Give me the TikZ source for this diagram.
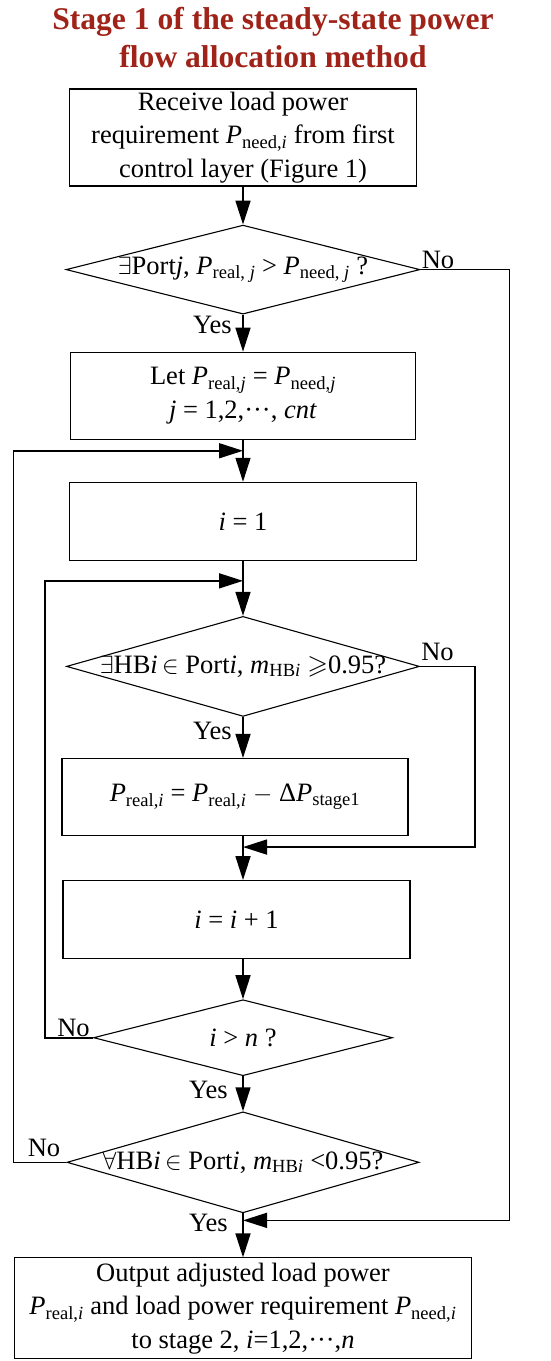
\documentclass[tikz,border=0pt]{standalone}
\usepackage{amsmath,amssymb}
\usepackage{fontspec}
\setmainfont{Liberation Serif}
\usepackage{xcolor}
\usetikzlibrary{positioning,shapes.geometric,arrows.meta}

\definecolor{titlered}{RGB}{160,35,25}
\newcommand{\pvar}[2]{\textit{#1}\textsubscript{#2}}

\begin{document}
\begin{tikzpicture}[
    x=1pt, y=1pt,
    font=\fontsize{26.5}{33.5}\selectfont,
    box/.style={rectangle, draw, line width=1.1pt, minimum width=347pt, align=center, inner sep=0pt},
    decision/.style={diamond, draw, line width=1.1pt, inner sep=0pt},
    line/.style={draw, line width=1.6pt, -{Triangle[length=24pt,width=15pt]}},
    lbl/.style={inner sep=1pt}
]
\useasboundingbox (0,0) rectangle (550,-1361);

% Title
\node[font=\fontsize{31.6}{38}\selectfont\bfseries, text=titlered, align=center] (title) at (273,-38)
    {Stage 1 of the steady-state power\\flow allocation method};

% Nodes
\node[box, minimum height=97pt] (recv) at (243,-137.5)
    {Receive load power\\requirement \pvar{P}{need,\textit{i}} from first\\control layer (Figure 1)};
\node[decision, minimum width=354pt, minimum height=89pt, below=38pt of recv] (chk1)
    {\makebox[0pt]{$\exists$Port\textit{j}, \pvar{P}{real, \textit{j}} > \pvar{P}{need, \textit{j}} ?}};
\node[box, minimum width=345pt, minimum height=87pt, below=37pt of chk1] (let)
    {Let \pvar{P}{real,\textit{j}} = \pvar{P}{need,\textit{j}}\\\textit{j} = 1,2,···, \textit{cnt}};
\node[box, minimum height=78pt, below=42pt of let] (init) {\textit{i} = 1};
\node[decision, minimum width=353pt, minimum height=100pt, below=55pt of init] (chk2)
    {\makebox[0pt]{$\exists$HB\textit{i}\,$\in$ Port\textit{i}, \pvar{m}{HB\textit{i}} $\geqslant$0.95?}};
\node[box, minimum width=346pt, minimum height=77pt, below=41pt of chk2, xshift=-8pt] (sub)
    {\pvar{P}{real,\textit{i}} = \pvar{P}{real,\textit{i}} $-$ Δ\pvar{P}{stage1}};
\node[box, minimum height=78pt, below=44pt of sub, xshift=1.5pt] (incr) {\textit{i} = \textit{i} + 1};
\node[decision, minimum width=299pt, minimum height=76pt, below=40pt of incr, xshift=6.5pt] (chk3)
    {\makebox[0pt]{\textit{i} > \textit{n} ?}};
\node[decision, minimum width=352pt, minimum height=101pt, below=35pt of chk3] (chk4)
    {\makebox[0pt]{$\forall$HB\textit{i}\,$\in$ Port\textit{i}, \pvar{m}{HB\textit{i}} <0.95?}};
\node[box, minimum width=457pt, minimum height=101pt, below=44pt of chk4] (out)
    {Output adjusted load power\\\pvar{P}{real,\textit{i}} and load power requirement \pvar{P}{need,\textit{i}}\\to stage 2, \textit{i}=1,2,···,\textit{n}};

% Merge points
\coordinate[below=11pt of let] (m1);
\coordinate[below=20pt of init] (m2);
\coordinate[below=11pt of sub] (m3);
\coordinate[below=7pt of chk4.south] (m4);

% Paths
\draw[line] (recv) -- (chk1);
\draw[line] (chk1) -- (let);
\draw[line] (let) -- (init);
\draw[line] (init) -- (chk2);
\draw[line] (chk2) -- (chk2.south |- sub.north);
\draw[line] (chk2.south |- sub.south) -- (chk2.south |- incr.north);
\draw[line] (chk2.south |- incr.south) -- (chk3);
\draw[line] (chk3) -- (chk4);
\draw[line] (chk4) -- (out);

% Loops
\draw[line] (chk1.east) -- ++(89,0) |- (m4);
\draw[line] (chk2.east) -- ++(55,0) |- (chk2.south |- m3);
\draw[line] (chk3.west) -- ++(-48,0) |- (m2);
\draw[line] (chk4.west) -- ++(-53,0) |- (m1);

% Labels
\node[lbl, anchor=south west] (no1) at (chk1.east) {No};
\node[lbl, anchor=north east, xshift=-10pt] (yes1) at (chk1.south) {Yes};
\node[lbl, anchor=south west, yshift=4pt] (no2) at (chk2.east) {No};
\node[lbl, anchor=north east, xshift=-10pt, yshift=-4pt] (yes2) at (chk2.south) {Yes};
\node[lbl, anchor=south east, xshift=-2pt] (no3) at (chk3.west) {No};
\node[lbl, anchor=north east, xshift=-14pt, yshift=-4pt] (yes3) at (chk3.south) {Yes};
\node[lbl, anchor=south east, xshift=-5pt, yshift=4pt] (no4) at (chk4.west) {No};
\node[lbl, anchor=north east, xshift=-14pt] (yes4) at (chk4.south) {Yes};

\end{tikzpicture}
\end{document}
